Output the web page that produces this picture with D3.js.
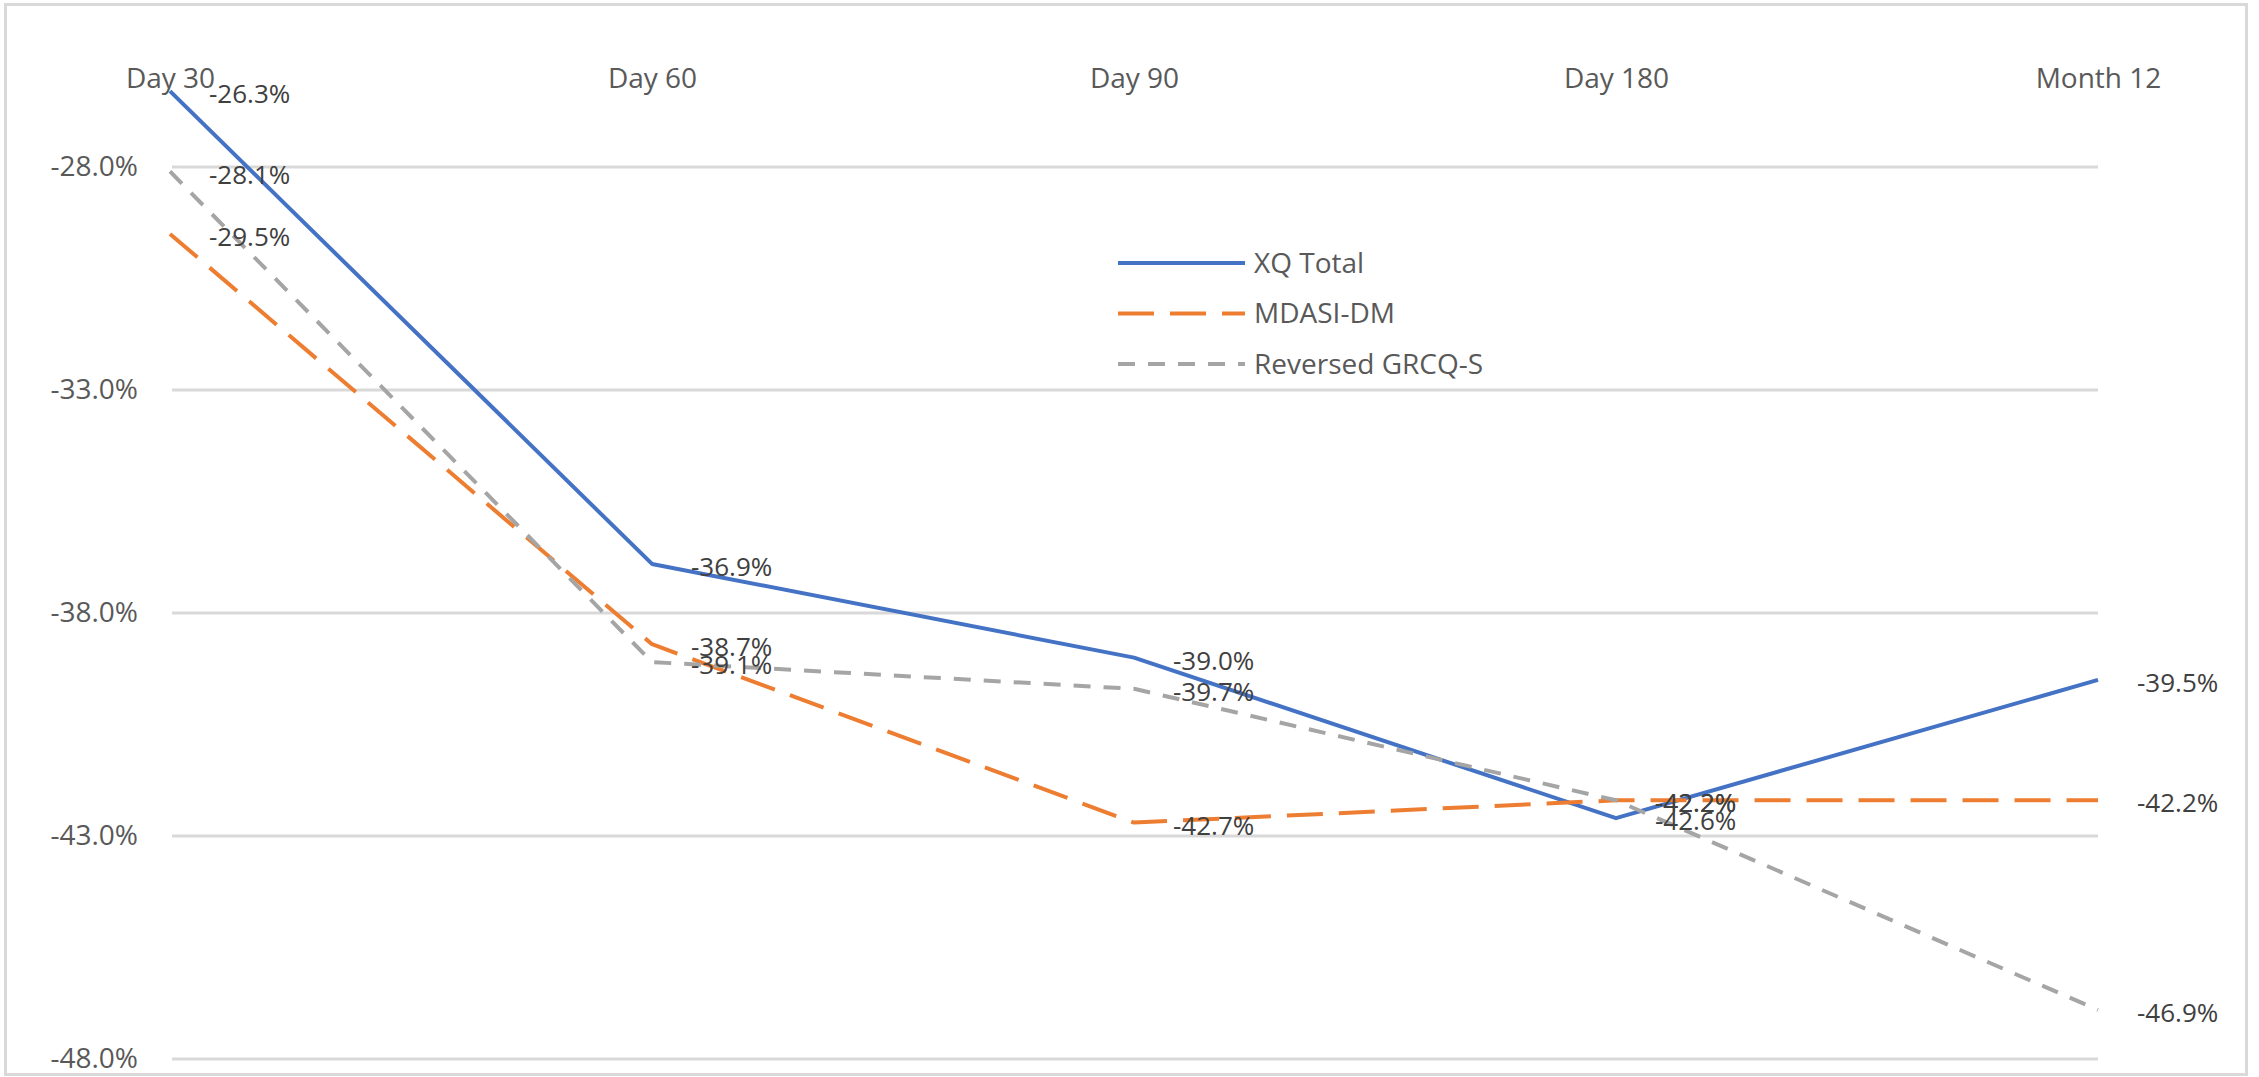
<!DOCTYPE html>
<html>
<head>
<meta charset="utf-8">
<script src="https://cdn.jsdelivr.net/npm/d3@7"></script>
<style>
  body { margin: 0; background: #fff; }
  text { font-family: "Open Sans", sans-serif; }
</style>
</head>
<body>
<div id="chart"></div>
<script>
let categories = ["Day 30", "Day 60", "Day 90", "Day 180", "Month 12"];
let seriesNames = ["XQ Total", "MDASI-DM", "Reversed GRCQ-S"];
let xqTotal = [-26.3, -36.9, -39.0, -42.6, -39.5];
let mdasiDm = [-29.5, -38.7, -42.7, -42.2, -42.2];
let grcqS = [-28.1, -39.1, -39.7, -42.2, -46.9];
let yTicks = [-28, -33, -38, -43, -48];

let width = 2259, height = 1077;

// plain hyphen for negatives, like the source chart
let fmt = d3.formatLocale({decimal: ".", thousands: ",", grouping: [3], currency: ["", ""], minus: "-"})
.format(".1f");
let pct = function(d) { return fmt(d) + "%"; };

let svg = d3.select("#chart")
.append("svg")
.attr("width", width)
.attr("height", height);

// outer chart border
svg.append("rect")
.attr("x", 5.5)
.attr("y", 4.5)
.attr("width", 2241)
.attr("height", 1070)
.attr("fill", "#fff")
.attr("stroke", "#d9d9d9")
.attr("stroke-width", 3);

let x = d3.scalePoint()
.domain(categories)
.range([170, 2098]);

let y = d3.scaleLinear()
.domain([-28, -48])
.range([167, 1059]);

let styles = [
  {name: seriesNames[0], values: xqTotal, color: "#4472c4", dash: null},
  {name: seriesNames[1], values: mdasiDm, color: "#ed7d31", dash: "36,16"},
  {name: seriesNames[2], values: grcqS, color: "#a5a5a5", dash: "17,13"}
];

// gridlines
svg.append("g")
.attr("class", "grid")
.selectAll("line")
.data(yTicks)
.enter().append("line")
.attr("x1", 172)
.attr("x2", 2098)
.attr("y1", function(d) { return y(d); })
.attr("y2", function(d) { return y(d); })
.attr("stroke", "#d9d9d9")
.attr("stroke-width", 3);

// value axis labels
let yAxis = svg.append("g")
.attr("transform", "translate(150,0)")
.call(d3.axisLeft(y)
  .tickValues(yTicks)
  .tickSize(0)
  .tickPadding(12)
  .tickFormat(pct));
yAxis.select(".domain").remove();
yAxis.selectAll("text")
.attr("fill", "#595959")
.style("font-size", "28px")
.style("font-family", "'Open Sans', sans-serif");

// category axis on top
let xAxis = svg.append("g")
.attr("transform", "translate(0,88)")
.call(d3.axisTop(x).tickSize(0).tickPadding(0));
xAxis.select(".domain").remove();
xAxis.selectAll("text")
.attr("fill", "#595959")
.attr("dy", "0")
.style("font-size", "28px")
.style("font-family", "'Open Sans', sans-serif");

let line = d3.line()
.x(function(d, i) { return x(categories[i]); })
.y(function(d) { return y(d); });

// series lines
svg.append("g")
.selectAll("path")
.data(styles)
.enter().append("path")
.attr("d", function(d) { return line(d.values); })
.attr("fill", "none")
.attr("stroke", function(d) { return d.color; })
.attr("stroke-width", 4)
.attr("stroke-dasharray", function(d) { return d.dash; })
.attr("stroke-linejoin", "round");

// data labels, right of each point
styles.forEach(function(s) {
  svg.append("g")
  .selectAll("text")
  .data(s.values)
  .enter().append("text")
  .attr("x", function(d, i) { return x(categories[i]) + 39; })
  .attr("y", function(d) { return y(d) + 3; })
  .attr("dy", "0.35em")
  .attr("fill", "#404040")
  .style("font-size", "26px")
  .text(pct);
});

// legend
let legend = svg.append("g")
.attr("transform", "translate(1118,263)")
.selectAll("g")
.data(styles)
.enter().append("g")
.attr("transform", function(d, i) { return "translate(0," + (i * 50.5) + ")"; });

legend.append("line")
.attr("x1", 0)
.attr("x2", 127)
.attr("stroke", function(d) { return d.color; })
.attr("stroke-width", 4)
.attr("stroke-dasharray", function(d) { return d.dash; });

legend.append("text")
.attr("x", 136)
.attr("dy", "0.35em")
.attr("fill", "#595959")
.style("font-size", "28px")
.text(function(d) { return d.name; });
</script>
</body>
</html>
